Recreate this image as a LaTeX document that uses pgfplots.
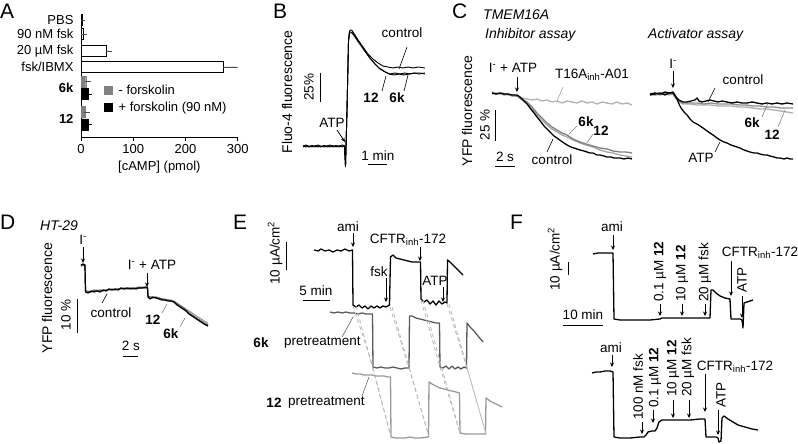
\documentclass[border=0pt]{standalone}
\usepackage{pgfplots}
\pgfplotsset{compat=1.18}
\usepackage{fontspec}
\setmainfont{Liberation Sans}
\usetikzlibrary{arrows.meta}
\newcommand\fs{\fontsize{13.5}{16}\selectfont}
\newcommand\fa{\fontsize{13}{15.5}\selectfont}
\newcommand\lt{\fontsize{21}{25}\selectfont}
\newcommand\hd{\fontsize{14}{16}\selectfont}
\newcommand\yl{\fontsize{14}{16}\selectfont}
\pgfplotsset{tr/.style={mark=none, line width=1.1pt, line join=round},
 sqleg/.style={legend image code/.code={\fill[##1] (0pt,-4pt) rectangle (7.5pt,4pt); \path (12pt,0pt);}}}
\tikzset{ar/.style={-{Stealth[length=4.5pt,width=4pt]}, line width=0.7pt},
 pt/.style={line width=0.6pt},
 sb/.style={line width=0.9pt},
 dl/.style={gray!55, line width=0.8pt, dash pattern=on 4pt off 3pt},
 lab/.style={inner sep=0pt, font=\fs}}
\begin{document}
\begin{tikzpicture}[font=\fs]
\path[use as bounding box] (0,0) rectangle (798pt,444pt);
% ---------------- Panel A : cAMP bar chart ----------------
\begin{axis}[at={(81pt,307pt)}, anchor=south west, scale only axis,
 width=156.7pt, height=122pt,
 xmin=0, xmax=300, ymin=0, ymax=122,
 axis lines=left, axis line style={-, line width=0.8pt},
 xtick={0,100,200,300}, tick align=outside, major tick length=4pt,
 xtick style={line width=0.8pt, black},
 ytick={117,103,86,70,49,18},
 yticklabels={PBS,90 nM fsk,20 µM fsk,fsk/IBMX,\textbf{6k},\textbf{12}},
 ytick style={draw=none},
 tick label style={font=\fa}, /pgf/number format/assume math mode=true,
 xlabel={[cAMP] (pmol)}, label style={font=\fa},
 xbar, bar width=11,
 legend style={at={(axis cs:44,54)}, anchor=north west, draw=none, fill=none,
   font=\fa, inner sep=0pt, row sep=2pt, cells={anchor=west}},
]
\addplot[xbar, bar shift=0pt, fill=white, draw=black, line width=0.8pt, forget plot,
 error bars/.cd, x dir=plus, x explicit,
 error bar style={line width=0.8pt, black!70},
 error mark options={black!70, mark size=3pt, line width=0.8pt}]
 coordinates {(2,117) +- (0.5,0) (5,103) +- (1,0) (48,86) +- (5,0) (272,70) +- (43,0)};
\addplot[xbar, bar shift=0pt, fill=black!50, draw=black!50, sqleg,
 error bars/.cd, x dir=plus, x explicit,
 error bar style={line width=0.8pt, black!70},
 error mark options={black!70, mark size=3pt, line width=0.8pt}]
 coordinates {(9,55.5) +- (3.5,0) (8,25) +- (3,0)};
\addlegendentry{- forskolin}
\addplot[xbar, bar shift=0pt, fill=black, draw=black, sqleg,
 error bars/.cd, x dir=plus, x explicit,
 error bar style={line width=0.8pt, black},
 error mark options={black, mark size=3pt, line width=0.8pt}]
 coordinates {(14,43) +- (2,0) (14,12.5) +- (2,0)};
\addlegendentry{+ forskolin (90 nM)}
\end{axis}
% ---------------- Panels B-F : traces in picture coordinates ----------------
\begin{axis}[at={(0pt,0pt)}, anchor=south west, scale only axis,
 width=798pt, height=444pt, xmin=0, xmax=798, ymin=0, ymax=444,
 y dir=reverse, hide axis, clip=false]
% ===== B =====
\addplot[tr, black, line width=0.9pt] coordinates {(303,146) (306,145) (309,146.5) (312,145.5) (315,146) (318,145) (321,146.5) (324,145.5) (327,146) (330,145) (333,146) (336,145.5) (339,146) (342,145) (344.5,145.5) (345.5,167) (347,110) (348.5,40) (349.5,31) (350.5,30) (352,30.5) (355,35) (358,40) (363,47) (368,54) (373,59) (378,63) (383,66) (388,67) (393,68) (398,67) (403,68) (408,67) (413,68) (418,67) (425,68)};
\addplot[tr, black, line width=0.9pt] coordinates {(303,147) (306,146) (309,147) (312,146) (315,147) (318,146) (321,147) (324,146) (327,147) (330,146) (333,147) (336,146) (339,147) (342,146) (344.5,146) (345.5,166) (347,110) (348.5,42) (349.5,33) (350.5,33) (352,33) (355,37) (359,43) (364,50) (369,57) (374,63) (379,68) (384,71) (389,74) (394,75) (399,74) (404,75) (409,74) (414,73) (419,74) (425,73)};
\addplot[tr, black, line width=0.9pt] coordinates {(303,146) (306,147) (309,146) (312,147) (315,146) (318,147) (321,146) (324,147) (327,146) (330,147) (333,146) (336,147) (339,146) (342,147) (344.5,146) (345.5,166) (347,110) (348.5,41) (349.5,32) (350.5,32) (352,32.5) (355,36) (360,43) (365,51) (370,58) (375,64) (380,69) (385,72) (390,74) (395,73) (400,74) (405,73) (410,74) (415,73) (420,73) (425,74)};
% ===== C inhibitor =====
\addplot[tr, black!30, line width=1.3pt] coordinates {(492,93) (497,94) (502,93) (507,94) (512,95) (517,96) (522,98) (527,99) (532,100) (537,99) (542,101) (547,100) (552,102) (557,101) (562,103) (567,101) (572,102) (577,103) (582,101) (587,103) (592,102) (597,104) (602,102) (607,103) (612,104) (617,102) (622,104) (627,103) (632,105)};
\addplot[tr, black!35, line width=1.3pt] coordinates {(492,94) (496,93) (500,94) (504,94) (508,95) (512,95) (517,96) (522,100) (527,103) (532,109) (537,115) (542,120) (547,125) (552,129) (557,132) (562,135) (567,137) (573,140) (580,143) (586,145) (593,147) (600,150) (607,152) (613,153) (620,155) (626,156) (632,157)};
\addplot[tr, black!50, line width=1.3pt] coordinates {(492,92) (496,94) (500,93) (504,95) (508,94) (512,96) (517,96) (522,99) (527,102) (532,107) (537,113) (542,118) (547,123) (552,127) (557,130) (562,133) (567,135) (573,139) (580,142) (586,144) (593,146) (600,148) (607,149) (613,151) (620,152) (626,152) (632,153)};
\addplot[tr, black, line width=1.3pt] coordinates {(492,93) (496,94) (500,93) (504,94) (508,94) (512,95) (517,95) (520,97) (523,100) (527,104) (530,108) (534,113) (537,117) (541,122) (544,126) (547,129) (551,133) (554,136) (557,138) (561,141) (564,143) (567,145) (571,147) (574,148) (577,149) (580,150) (584,151) (587,152) (590,153) (593,153) (597,155) (600,155) (604,156) (607,157) (611,157) (614,158) (617,158) (620,158) (624,159) (628,158) (632,159)};
% ===== C activator =====
\addplot[tr, black!32, line width=1.3pt] coordinates {(650,95) (655,94) (660,95) (665,94) (669,95) (673,94) (676,99) (679,102) (683,104) (690,104) (697,105) (704,105) (711,105) (718,106) (725,106) (732,106) (739,107) (746,107) (753,108) (760,109) (767,109) (774,110) (781,111) (787,112) (793,113)};
\addplot[tr, black!45, line width=1.3pt] coordinates {(650,94) (655,95) (660,94) (665,93) (669,94) (673,94) (676,98) (679,101) (683,103) (690,103) (697,103) (704,104) (711,103) (718,104) (725,104) (732,104) (739,105) (746,105) (753,106) (760,106) (767,107) (774,107) (781,108) (787,108) (793,108)};
\addplot[tr, black, line width=1.3pt] coordinates {(650,95) (655,94) (660,93) (665,95) (669,93) (673,93) (676,97) (679,100) (683,102) (687,102) (691,101) (695,100) (697,98) (699,101) (702,102) (706,101) (710,100) (714,101) (718,102) (722,101) (727,102) (732,103) (737,102) (742,103) (747,103) (752,102) (757,103) (762,104) (767,103) (772,104) (777,103) (782,104) (787,103) (793,104)};
\addplot[tr, black, line width=1.3pt] coordinates {(650,94) (655,93) (660,94) (665,92) (669,93) (673,92) (675,95) (677,99) (679,104) (681,108) (684,112) (687,115) (690,119) (693,122) (697,124) (700,126) (703,128) (707,131) (710,133) (713,135) (717,138) (720,140) (724,142) (727,143) (731,145) (734,146) (737,147) (740,148) (744,150) (747,151) (750,152) (754,153) (757,153) (760,154) (764,155) (767,155) (770,156) (774,157) (777,158) (780,158) (784,159) (787,158) (790,159) (793,159)};
% ===== D =====
\addplot[tr, black!40, line width=1.2pt] coordinates {(81,266) (83,265) (85,265) (85.5,291) (88,291) (91,292) (94,291) (97,290) (100,291) (103,290) (106,290) (109,289) (112,290) (115,289) (118,289) (121,288) (124,289) (127,288) (130,288) (133,289) (136,288) (139,288) (142,287) (145,288) (147.5,287) (148,296) (150,297) (153,297) (156,298) (159,298) (162,299) (165,299) (168,300) (171,300) (174,301) (177,303) (180,305) (183,307) (186,309) (189,311) (192,313) (195,315) (198,317) (201,319) (204,321) (208,323)};
\addplot[tr, black!65, line width=1.2pt] coordinates {(81,266) (83,265) (85,266) (85.5,291) (88,292) (91,292) (94,290) (97,291) (100,290) (103,291) (106,290) (109,290) (112,289) (115,290) (118,289) (121,289) (124,288) (127,289) (130,288) (133,289) (136,288) (139,287) (142,288) (145,288) (147.5,287) (148,296) (150,297) (153,298) (156,297) (159,298) (162,299) (165,300) (168,300) (171,301) (174,302) (177,304) (180,306) (183,308) (186,310) (189,313) (192,315) (195,317) (198,319) (201,321) (204,323) (208,325)};
\addplot[tr, black, line width=1.2pt] coordinates {(81,265) (83,264) (85,265) (85.5,292) (88,293) (91,291) (94,292) (97,291) (100,292) (103,290) (106,291) (109,289) (112,290) (115,289) (118,290) (121,288) (124,289) (127,288) (130,289) (133,288) (136,289) (139,288) (142,288) (145,287) (147.5,288) (148,297) (150,299) (153,297) (156,298) (159,299) (162,300) (165,300) (168,301) (171,301) (174,302) (177,305) (180,307) (183,309) (186,311) (189,314) (192,316) (195,318) (198,320) (201,322) (204,324) (208,326)};
% ===== E =====
\addplot[tr, black, line width=1.3pt] coordinates {(314,250) (318,251) (321,249) (325,251) (329,250) (333,252) (337,250) (341,251) (345,249) (349,251) (352.5,250) (353,305) (356,307) (359,305) (362,308) (365,306) (368,309) (371,306) (374,308) (377,306) (380,308) (383,306) (386,307) (389.5,305) (390.5,257) (393,255) (396,258) (400,259) (404,260) (408,261) (412,262) (416,262) (420.5,262) (421,299) (424,302) (427,300) (430,304) (433,301) (436,305) (439,301) (442,304) (445,302) (447,303) (447.5,260) (450,262) (453,265) (456,268) (459,271) (463,275)};
\addplot[tr, black!65, line width=1.3pt] coordinates {(330,312) (334,313) (338,312) (342,313) (346,312) (350,313) (354,313) (358,314) (362,313) (366,314) (370,314) (372.5,314) (373,367) (377,368) (381,367) (385,368) (389,368) (393,367) (397,368) (401,369) (405,368) (409,368) (409.5,316) (412,316) (416,318) (420,319) (424,320) (428,321) (432,322) (436,323) (439.5,323) (440,367) (443,368) (446,366) (449,369) (452,366) (455,369) (458,367) (461,369) (464,367) (466.5,368) (467,323) (470,327) (474,331) (478,336) (483,342)};
\addplot[tr, black!40, line width=1.3pt] coordinates {(352,373) (356,374) (360,374) (364,375) (368,375) (372,375) (376,376) (380,376) (384,376) (388,377) (390.5,377) (391,437) (395,438) (400,438) (405,438) (410,437) (415,438) (420,438) (428.5,437) (429,382) (432,384) (436,386) (440,388) (444,389) (448,390) (452,391) (456,392) (459.5,393) (460,433) (465,434) (470,434) (475,434) (480,434) (485.5,434) (486,398) (490,401) (494,403) (498,405) (502,407)};
% ===== F =====
\addplot[tr, black, line width=1.3pt] coordinates {(593,254) (598,253) (603,253) (608,253) (613,253) (614,319) (620,320) (630,320) (640,320) (650,320) (660,319) (662,318) (670,318) (680,318) (690,318) (700,318) (710,318) (711,290) (713,290) (716,293) (720,296) (725,298) (730,299) (731,319) (735,319) (740,319) (742,320) (743,328) (744,303) (747,302) (750,301) (753,300)};
\addplot[tr, black, line width=1.3pt] coordinates {(592,373) (596,372) (600,372) (605,371) (610,371) (613,372) (614,437) (620,438) (630,438) (640,437) (644,437) (646,435) (648,432) (652,431) (655,431) (657,428) (659,422) (662,420) (670,420) (680,420) (690,420) (700,419) (705,419) (706,437) (710,437) (716,437) (718,438) (719,442) (721,441) (722,418) (724,416) (728,419) (733,422) (738,425) (745,427) (752,429) (758,430)};

% ----- panel letters and headings -----
\node[anchor=base west, inner sep=0pt, font=\lt] at (axis cs:0,19) {A};
\node[anchor=base west, inner sep=0pt, font=\lt] at (axis cs:273,19) {B};
\node[anchor=base west, inner sep=0pt, font=\lt] at (axis cs:452,19) {C};
\node[anchor=base west, inner sep=0pt, font=\lt] at (axis cs:0,229) {D};
\node[anchor=base west, inner sep=0pt, font=\lt] at (axis cs:233,229) {E};
\node[anchor=base west, inner sep=0pt, font=\lt] at (axis cs:510,229) {F};
\node[anchor=base west, inner sep=0pt, font=\hd\itshape] at (axis cs:483,20) {TMEM16A};
\node[anchor=base west, inner sep=0pt, font=\hd\itshape] at (axis cs:485,39) {Inhibitor assay};
\node[anchor=base west, inner sep=0pt, font=\hd\itshape] at (axis cs:648,39) {Activator assay};
\node[anchor=base west, inner sep=0pt, font=\hd\itshape] at (axis cs:40,230) {HT-29};

% ----- B annotations -----
\node[lab, font=\yl, rotate=90] at (axis cs:287,92) {Fluo-4 fluorescence};
\draw[sb] (axis cs:320,73) -- (axis cs:320,102);
\node[lab, rotate=90] at (axis cs:309,87) {25\%};
\draw[sb] (axis cs:368,164) -- (axis cs:387,164);
\node[lab] at (axis cs:378,156) {1 min};
\node[lab] at (axis cs:332,123) {ATP};
\draw[ar] (axis cs:337,130) -- (axis cs:345,142);
\node[lab] at (axis cs:402,33) {control};
\draw[pt] (axis cs:407,47) -- (axis cs:399,69);
\node[lab, font=\fs\bfseries] at (axis cs:371,98) {12};
\draw[pt] (axis cs:382,91) -- (axis cs:386,76);
\node[lab, font=\fs\bfseries] at (axis cs:397,98) {6k};
\draw[pt] (axis cs:404,91) -- (axis cs:408,75);

% ----- C annotations -----
\node[lab, font=\yl, rotate=90] at (axis cs:467,111) {YFP fluorescence};
\draw[sb] (axis cs:495,110) -- (axis cs:495,141);
\node[lab, rotate=90] at (axis cs:485,125) {25 \%};
\draw[sb] (axis cs:495,166) -- (axis cs:515,166);
\node[lab] at (axis cs:505,157) {2 s};
\node[lab] at (axis cs:513,68) {I\textsuperscript{-} + ATP};
\draw[ar] (axis cs:517,77) -- (axis cs:517,92);
\node[lab] at (axis cs:592,75) {T16A\textsubscript{inh}-A01};
\draw[pt, black!35] (axis cs:557,101) -- (axis cs:563,87);
\node[lab, font=\fs\bfseries] at (axis cs:586,122) {6k};
\draw[pt, black!50] (axis cs:569,134) -- (axis cs:577,126);
\node[lab, font=\fs\bfseries] at (axis cs:601,131) {12};
\draw[pt, black!50] (axis cs:587,143) -- (axis cs:593,134);
\node[lab] at (axis cs:552,160) {control};
\draw[pt] (axis cs:547,152) -- (axis cs:553,139);
\node[lab] at (axis cs:673,64) {I\textsuperscript{-}};
\draw[ar] (axis cs:673,71) -- (axis cs:673,88);
\node[lab] at (axis cs:743,80) {control};
\draw[pt] (axis cs:708,102) -- (axis cs:715,88);
\node[lab, font=\fs\bfseries] at (axis cs:752,123) {6k};
\draw[pt, black!50] (axis cs:762,117) -- (axis cs:768,103);
\node[lab, font=\fs\bfseries] at (axis cs:772,135) {12};
\draw[pt, black!50] (axis cs:778,127) -- (axis cs:785,110);
\node[lab] at (axis cs:701,158) {ATP};
\draw[pt] (axis cs:715,152) -- (axis cs:720,142);

% ----- D annotations -----
\node[lab, font=\yl, rotate=90] at (axis cs:47,298) {YFP fluorescence};
\draw[sb] (axis cs:77,299) -- (axis cs:77,333);
\node[lab, rotate=90] at (axis cs:66,315) {10 \%};
\draw[sb] (axis cs:123,356) -- (axis cs:138,356);
\node[lab] at (axis cs:131,346) {2 s};
\node[lab] at (axis cs:83,240) {I\textsuperscript{-}};
\draw[ar] (axis cs:83,247) -- (axis cs:83,263);
\node[lab] at (axis cs:152,265) {I\textsuperscript{-} + ATP};
\draw[ar] (axis cs:147,273) -- (axis cs:147,287);
\node[lab] at (axis cs:111,313) {control};
\draw[pt] (axis cs:102,303) -- (axis cs:107,294);
\node[lab, font=\fs\bfseries] at (axis cs:153,320) {12};
\draw[pt, black!50] (axis cs:162,313) -- (axis cs:167,304);
\node[lab, font=\fs\bfseries] at (axis cs:171,334) {6k};
\draw[pt, black!50] (axis cs:180,327) -- (axis cs:185,318);

% ----- E annotations -----
\draw[dl] (axis cs:353,306) -- (axis cs:373,367);
\draw[dl] (axis cs:356,306) -- (axis cs:391,437);
\draw[dl] (axis cs:373,368) -- (axis cs:391,437);
\draw[dl] (axis cs:390,307) -- (axis cs:409,368);
\draw[dl] (axis cs:392,307) -- (axis cs:429,437);
\draw[dl] (axis cs:409,368) -- (axis cs:429,437);
\draw[dl] (axis cs:421,300) -- (axis cs:440,367);
\draw[dl] (axis cs:423,300) -- (axis cs:460,433);
\draw[dl] (axis cs:440,367) -- (axis cs:460,433);
\draw[dl] (axis cs:447,304) -- (axis cs:467,368);
\draw[dl] (axis cs:449,304) -- (axis cs:486,434);
\draw[dl] (axis cs:467,368) -- (axis cs:486,434);
\draw[sb] (axis cs:286,242) -- (axis cs:286,270);
\node[lab, rotate=90] at (axis cs:275,253) {10 µA/cm\textsuperscript{2}};
\draw[sb] (axis cs:303,300) -- (axis cs:330,300);
\node[lab] at (axis cs:316,291) {5 min};
\node[lab] at (axis cs:348,227) {ami};
\draw[ar] (axis cs:353,233) -- (axis cs:353,247);
\node[lab] at (axis cs:408,240) {CFTR\textsubscript{inh}-172};
\draw[ar] (axis cs:420,247) -- (axis cs:420,261);
\node[lab] at (axis cs:379,272) {fsk};
\draw[ar] (axis cs:386,278) -- (axis cs:386,302);
\node[lab] at (axis cs:435,281) {ATP};
\draw[ar] (axis cs:443,287) -- (axis cs:443,302);
\node[lab, font=\fs\bfseries] at (axis cs:261,343) {6k};
\node[lab, anchor=west] at (axis cs:284,343) {pretreatment};
\draw[pt, black!60] (axis cs:342,337) -- (axis cs:353,317);
\node[lab, font=\fs\bfseries] at (axis cs:274,403) {12};
\node[lab, anchor=west] at (axis cs:288,403) {pretreatment};
\draw[pt, black!60] (axis cs:362,396) -- (axis cs:369,377);

% ----- F annotations -----
\draw[sb] (axis cs:568,262) -- (axis cs:568,275);
\node[lab, rotate=90] at (axis cs:555,259) {10 µA/cm\textsuperscript{2}};
\draw[sb] (axis cs:563,325) -- (axis cs:603,325);
\node[lab] at (axis cs:583,315) {10 min};
\node[lab] at (axis cs:612,227) {ami};
\draw[ar] (axis cs:613,235) -- (axis cs:613,250);
\node[lab, rotate=90, anchor=west] at (axis cs:660,302) {0.1 µM \textbf{12}};
\draw[ar] (axis cs:660,304) -- (axis cs:660,316);
\node[lab, rotate=90, anchor=west] at (axis cs:682,302) {10 µM \textbf{12}};
\draw[ar] (axis cs:682,304) -- (axis cs:682,316);
\node[lab, rotate=90, anchor=west] at (axis cs:705,302) {20 µM fsk};
\draw[ar] (axis cs:705,304) -- (axis cs:705,316);
\node[lab] at (axis cs:760,253) {CFTR\textsubscript{inh}-172};
\draw[ar] (axis cs:731,261) -- (axis cs:731,296);
\node[lab, rotate=90, anchor=west] at (axis cs:742,293) {ATP};
\draw[ar] (axis cs:742,296) -- (axis cs:742,318);
\node[lab] at (axis cs:611,348) {ami};
\draw[ar] (axis cs:612,355) -- (axis cs:612,367);
\node[lab, rotate=90, anchor=west] at (axis cs:638,420) {100 nM fsk};
\draw[ar] (axis cs:642,422) -- (axis cs:642,434);
\node[lab, rotate=90, anchor=west] at (axis cs:655,408) {0.1 µM \textbf{12}};
\draw[ar] (axis cs:653,410) -- (axis cs:653,423);
\node[lab, rotate=90, anchor=west] at (axis cs:673,397) {10 µM \textbf{12}};
\draw[ar] (axis cs:673,400) -- (axis cs:673,418);
\node[lab, rotate=90, anchor=west] at (axis cs:688,397) {20 µM fsk};
\draw[ar] (axis cs:689,400) -- (axis cs:689,418);
\node[lab] at (axis cs:735,367) {CFTR\textsubscript{inh}-172};
\draw[ar] (axis cs:705,374) -- (axis cs:705,412);
\node[lab, rotate=90, anchor=west] at (axis cs:721,408) {ATP};
\draw[ar] (axis cs:718,410) -- (axis cs:718,435);
\end{axis}
\end{tikzpicture}
\end{document}
